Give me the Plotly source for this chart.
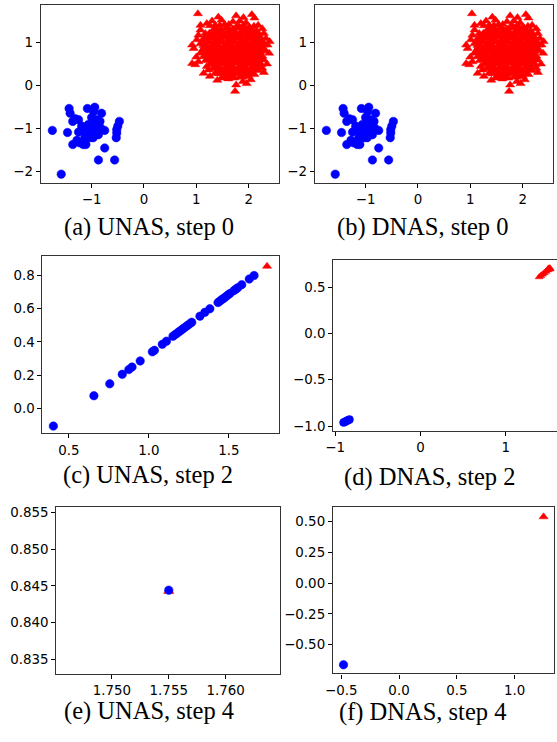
import plotly.graph_objects as go

W, H = 557, 742

# ---------------- data ----------------
# step 0 (identical for UNAS and DNAS)
blue0_xy = [(-1.75, -1.05), (-1.58, -2.07), (-1.46, -1.10), (-1.43, -0.54), (-1.41, -0.65),
            (-1.36, -0.84), (-1.31, -0.78), (-1.25, -0.80), (-1.36, -1.38), (-1.28, -1.28),
            (-1.25, -1.09), (-1.19, -0.95), (-1.23, -1.34), (-1.16, -1.38), (-1.11, -1.38),
            (-1.13, -1.22), (-1.09, -1.11), (-1.11, -0.98), (-1.06, -0.91), (-1.08, -0.54),
            (-1.03, -1.11), (-1.00, -0.75), (-0.98, -0.99), (-0.96, -0.88), (-0.94, -0.51),
            (-0.96, -0.61), (-0.94, -1.07), (-0.91, -0.95), (-0.87, -1.15), (-0.84, -0.84),
            (-0.81, -0.65), (-0.83, -0.99), (-0.89, -0.82), (-0.75, -1.05), (-0.75, -1.46),
            (-0.87, -1.74), (-0.56, -1.74), (-0.47, -0.84), (-0.50, -0.95), (-0.52, -1.03),
            (-0.52, -1.11), (-0.53, -1.22), (-1.03, -1.22), (-0.97, -1.22), (-1.16, -1.07),
            (-1.00, -0.91), (-0.91, -0.80)]
# outer (sparse) red triangles
red0_edge_xy = [(1.03, 1.67), (1.42, 1.59), (1.76, 1.62), (2.06, 1.65), (2.11, 1.57), (1.08, 1.40),
                (1.20, 1.44), (1.26, 1.39), (1.36, 1.40), (1.54, 1.42), (1.70, 1.48), (1.83, 1.50),
                (1.95, 1.46), (2.01, 1.36), (2.26, 1.32), (2.29, 1.21), (2.33, 1.09), (2.36, 0.94),
                (2.39, 0.75), (2.29, 0.59), (2.26, 0.40), (2.29, 0.30), (2.11, 0.25), (2.04, 0.13),
                (1.89, 0.09), (1.76, 0.01), (1.74, -0.14), (1.61, 0.15), (1.48, 0.17), (1.26, 0.21),
                (1.14, 0.28), (0.98, 0.48), (0.92, 0.51), (1.04, 0.55), (0.95, 0.86), (0.92, 0.94),
                (1.01, 1.06), (1.04, 1.17), (1.08, 0.75), (1.14, 0.86), (1.20, 0.44), (1.23, 0.36),
                (1.36, 0.28), (1.08, 1.29), (1.17, 1.21), (2.18, 1.40), (1.90, 1.58), (1.48, 1.52),
                (1.30, 1.50), (2.35, 0.50), (2.40, 1.02), (1.00, 0.66), (1.96, 0.04), (1.40, 0.12),
                (1.45, 1.40), (1.62, 1.42), (1.78, 1.39), (1.90, 1.40), (2.10, 1.38)]
# dense red core
red0_core_xy = [(1.35, 1.31), (1.47, 1.28), (1.58, 1.33), (1.70, 1.29), (1.82, 1.34), (1.93, 1.30),
                (2.05, 1.27), (2.15, 1.25),
                (1.25, 1.19), (1.38, 1.22), (1.50, 1.18), (1.62, 1.21), (1.74, 1.17), (1.86, 1.22),
                (1.98, 1.19), (2.10, 1.16), (2.20, 1.14),
                (1.15, 1.08), (1.28, 1.11), (1.40, 1.07), (1.52, 1.12), (1.64, 1.08), (1.76, 1.11),
                (1.88, 1.07), (2.00, 1.10), (2.12, 1.06), (2.24, 1.04),
                (1.10, 0.98), (1.22, 1.01), (1.34, 0.97), (1.46, 1.02), (1.58, 0.98), (1.70, 1.01),
                (1.82, 0.97), (1.94, 1.00), (2.06, 0.96), (2.18, 0.99), (2.28, 0.95),
                (1.18, 0.90), (1.30, 0.87), (1.42, 0.91), (1.54, 0.88), (1.66, 0.92), (1.78, 0.88),
                (1.90, 0.91), (2.02, 0.87), (2.14, 0.90), (2.26, 0.86),
                (1.12, 0.79), (1.24, 0.81), (1.36, 0.78), (1.48, 0.82), (1.60, 0.78), (1.72, 0.81),
                (1.84, 0.77), (1.96, 0.80), (2.08, 0.78), (2.20, 0.80), (2.30, 0.82),
                (1.16, 0.68), (1.28, 0.71), (1.40, 0.67), (1.52, 0.70), (1.64, 0.68), (1.76, 0.72),
                (1.88, 0.68), (2.00, 0.71), (2.12, 0.67), (2.24, 0.69),
                (1.20, 0.59), (1.32, 0.61), (1.44, 0.57), (1.56, 0.60), (1.68, 0.58), (1.80, 0.62),
                (1.92, 0.58), (2.04, 0.61), (2.16, 0.57),
                (1.28, 0.50), (1.40, 0.47), (1.52, 0.51), (1.64, 0.48), (1.76, 0.52), (1.88, 0.48),
                (2.00, 0.50), (2.12, 0.47), (2.22, 0.49),
                (1.34, 0.40), (1.46, 0.37), (1.58, 0.41), (1.70, 0.38), (1.82, 0.41), (1.94, 0.37),
                (2.06, 0.40), (2.16, 0.36),
                (1.45, 0.28), (1.57, 0.31), (1.69, 0.27), (1.81, 0.30), (1.93, 0.27), (2.03, 0.30),
                (1.55, 0.20), (1.70, 0.18), (1.85, 0.20), (1.98, 0.22),
                (1.41, 1.25), (1.64, 1.26), (1.88, 1.26), (2.10, 1.22), (1.31, 1.15), (1.56, 1.15),
                (1.80, 1.15), (2.04, 1.13), (1.22, 1.05), (1.46, 1.05), (1.70, 1.05), (1.94, 1.04),
                (2.18, 1.03), (1.16, 0.94), (1.40, 0.94), (1.64, 0.95), (1.88, 0.94), (2.12, 0.93),
                (1.18, 0.84), (1.42, 0.85), (1.66, 0.84), (1.90, 0.84), (2.14, 0.84), (1.22, 0.74),
                (1.46, 0.75), (1.70, 0.76), (1.94, 0.74), (2.18, 0.74), (1.26, 0.64), (1.50, 0.64),
                (1.74, 0.65), (1.98, 0.64), (2.20, 0.63), (1.34, 0.54), (1.58, 0.55), (1.82, 0.56),
                (2.06, 0.54), (1.40, 0.44), (1.64, 0.44), (1.88, 0.44), (2.10, 0.43), (1.52, 0.34),
                (1.75, 0.34), (1.98, 0.33), (1.62, 0.24), (1.90, 0.24)]

# UNAS step 2
blue_c_x = [0.404, 0.657, 0.756, 0.834, 0.875, 0.895, 0.946, 1.022, 1.035, 1.084, 1.110,
            1.151, 1.165, 1.178, 1.190, 1.203, 1.215, 1.228, 1.241, 1.254, 1.268, 1.319,
            1.350, 1.381, 1.432, 1.444, 1.456, 1.468, 1.480, 1.493, 1.506, 1.530, 1.543,
            1.555, 1.580, 1.627, 1.657]
blue_c_y = [-0.108, 0.075, 0.147, 0.204, 0.233, 0.248, 0.285, 0.340, 0.349, 0.385, 0.404,
            0.434, 0.444, 0.453, 0.462, 0.471, 0.480, 0.489, 0.499, 0.508, 0.518, 0.555,
            0.578, 0.600, 0.637, 0.646, 0.655, 0.663, 0.672, 0.682, 0.691, 0.708, 0.718,
            0.726, 0.745, 0.779, 0.800]
red_c_x = [1.738]
red_c_y = [0.856]

# DNAS step 2
blue_d_x = [-0.902, -0.885, -0.868, -0.850, -0.833]
blue_d_y = [-0.962, -0.954, -0.946, -0.938, -0.930]
red_d_x = [1.391, 1.410, 1.430, 1.450, 1.470, 1.490, 1.505, 1.517, 1.500, 1.520]
red_d_y = [0.611, 0.625, 0.640, 0.655, 0.670, 0.685, 0.695, 0.708, 0.705, 0.695]

# UNAS step 4
blue_e_x = [1.7550]
blue_e_y = [0.84442]
red_e_x = [1.7550]
red_e_y = [0.84428]

# DNAS step 4
blue_f_x = [-0.48]
blue_f_y = [-0.664]
red_f_x = [1.25]
red_f_y = [0.54]

captions = ["(a) UNAS, step 0", "(b) DNAS, step 0", "(c) UNAS, step 2",
            "(d) DNAS, step 2", "(e) UNAS, step 4", "(f) DNAS, step 4"]

ticks = [
    ([-1, 0, 1, 2], [-2, -1, 0, 1], "d", "d"),
    ([-1, 0, 1, 2], [-2, -1, 0, 1], "d", "d"),
    ([0.5, 1.0, 1.5], [0.0, 0.2, 0.4, 0.6, 0.8], ".1f", ".1f"),
    ([-1, 0, 1], [-1.0, -0.5, 0.0, 0.5], "d", ".1f"),
    ([1.750, 1.755, 1.760], [0.835, 0.840, 0.845, 0.850, 0.855], ".3f", ".3f"),
    ([-0.5, 0.0, 0.5, 1.0], [-0.50, -0.25, 0.00, 0.25, 0.50], ".1f", ".2f"),
]

ranges = [
    ([-1.97, 2.58], [-2.278, 1.866]),
    ([-1.97, 2.58], [-2.278, 1.866]),
    ([0.336, 1.813], [-0.152, 0.918]),
    ([-1.023, 1.60], [-1.055, 0.80]),
    ([1.7451, 1.76477], [0.83297, 0.85577]),
    ([-0.571, 1.338], [-0.734, 0.621]),
]

# ---------------- layout geometry (pixels) ----------------
boxes = [(33.3, 3.3, 275.0, 182.3), (311.3, 3.3, 553.0, 182.3),
         (35.0, 255.7, 275.0, 434.3), (330.0, 259.3, 557.0, 432.0),
         (49.0, 508.3, 275.7, 676.7), (329.7, 508.3, 553.7, 676.0)]
cap_pos = [(143.0, 226.5), (421.0, 226.5), (142.0, 476.5), (428.0, 478.0),
           (143.0, 714.0), (421.0, 715.0)]


def unzip(pts):
    return [p[0] for p in pts], [p[1] for p in pts]


b0x, b0y = unzip(blue0_xy)
re_x, re_y = unzip(red0_edge_xy)
rc_x, rc_y = unzip(red0_core_xy)

RED, BLUE = "#ff0000", "#0000ff"
panel_traces = [
    [(re_x, re_y, RED, "triangle-up", 8), (rc_x, rc_y, RED, "triangle-up", 10),
     (b0x, b0y, BLUE, "circle", 8.5)],
    [(re_x, re_y, RED, "triangle-up", 8), (rc_x, rc_y, RED, "triangle-up", 10),
     (b0x, b0y, BLUE, "circle", 8.5)],
    [(red_c_x, red_c_y, RED, "triangle-up", 8), (blue_c_x, blue_c_y, BLUE, "circle", 8.5)],
    [(red_d_x, red_d_y, RED, "triangle-up", 7), (blue_d_x, blue_d_y, BLUE, "circle", 8)],
    [(red_e_x, red_e_y, RED, "triangle-up", 9), (blue_e_x, blue_e_y, BLUE, "circle", 8.5)],
    [(red_f_x, red_f_y, RED, "triangle-up", 8), (blue_f_x, blue_f_y, BLUE, "circle", 8.5)],
]

fig = go.Figure()
tickfont = dict(family="DejaVu Sans", size=13.4, color="black")
layout = {}
for i in range(6):
    n = i + 1
    xa = "x" if n == 1 else f"x{n}"
    ya = "y" if n == 1 else f"y{n}"
    for (tx, ty, col, sym, sz) in panel_traces[i]:
        fig.add_trace(go.Scatter(x=tx, y=ty, mode="markers", xaxis=xa, yaxis=ya,
                                 marker=dict(symbol=sym, size=sz, color=col,
                                             line=dict(width=0.5, color=col)),
                                 hoverinfo="skip"))
    x0, y0, x1, y1 = boxes[i]
    xt, yt, xf, yf = ticks[i]
    xr, yr = ranges[i]
    common = dict(showline=True, linecolor="#333333", linewidth=1.2, ticks="outside",
                  ticklen=4, tickwidth=1, tickcolor="black", showgrid=False,
                  zeroline=False, tickfont=tickfont, fixedrange=True)
    layout["xaxis" if n == 1 else f"xaxis{n}"] = dict(
        domain=[x0 / W, min(x1 / W, 1.0)], range=xr, anchor=ya, tickvals=xt,
        tickformat=xf, mirror=True, **common)
    layout["yaxis" if n == 1 else f"yaxis{n}"] = dict(
        domain=[1 - y1 / H, 1 - y0 / H], range=yr, anchor=xa, tickvals=yt,
        tickformat=yf, mirror=(i != 3), **common)

annotations = []
for i, (cx, cy) in enumerate(cap_pos):
    annotations.append(dict(text=captions[i], x=cx / W, y=1 - cy / H, xref="paper",
                            yref="paper", xanchor="center", yanchor="middle",
                            showarrow=False,
                            font=dict(family="Liberation Serif", size=24.5, color="black")))

fig.update_layout(width=W, height=H, margin=dict(l=0, r=0, t=0, b=0),
                  paper_bgcolor="white", plot_bgcolor="white", showlegend=False,
                  annotations=annotations, **layout)

fig.write_html("out.html")
